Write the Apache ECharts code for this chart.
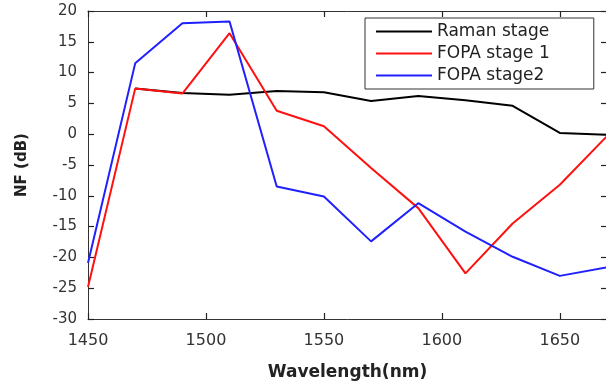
<!DOCTYPE html>
<html><head><meta charset="utf-8">
<script src="https://cdn.jsdelivr.net/npm/echarts@6/dist/echarts.min.js"></script>
<style>html,body{margin:0;padding:0;background:#fff}#c{width:606px;height:382px}</style>
</head><body><div id="c"></div>
<script>
const wavelengths = [1450,1470,1490,1510,1530,1550,1570,1590,1610,1630,1650,1670];
const raman = [null,7.4,6.7,6.4,7.0,6.8,5.4,6.2,5.5,4.6,0.2,-0.1];
const fopa1 = [-24.8,7.4,6.6,16.4,3.8,1.3,-5.5,-12.0,-22.6,-14.5,-8.2,-0.3];
const fopa2 = [-20.9,11.5,18.0,18.3,-8.5,-10.1,-17.4,-11.2,-15.8,-19.9,-23.0,-21.6];

const pairs = arr => wavelengths.map((w,i)=>[w,arr[i]]).filter(p=>p[1]!==null);
const chart = echarts.init(document.getElementById('c'));
const font = 'DejaVu Sans, sans-serif';
const mkAxis = () => ({
  axisLine:{show:true,onZero:false,lineStyle:{color:'#333',width:1}},
  axisTick:{show:true,inside:true,length:6,lineStyle:{color:'#222',width:1.2}},
  splitLine:{show:false}
});
chart.setOption({
  animation:false,
  grid:{left:88,top:11,width:519,height:308,show:false,containLabel:false,outerBoundsMode:'none'},
  legend:{
    orient:'vertical', left:365, top:18, itemWidth:56, itemHeight:2, itemGap:5,
    icon:'rect', padding:[5,44,5,11],
    borderColor:'#333', borderWidth:1, backgroundColor:'#fff',
    textStyle:{fontFamily:font,fontSize:17,color:'#222'},
    data:['Raman stage','FOPA stage 1','FOPA stage2']
  },
  xAxis:[
    Object.assign(mkAxis(),{type:'value',min:1450,max:1670,interval:50,position:'bottom',
      name:'Wavelength(nm)',nameLocation:'middle',nameGap:45,
      nameTextStyle:{fontFamily:font,fontSize:17,fontWeight:'bold',color:'#222'},
      axisLabel:{fontFamily:font,fontSize:16,color:'#333',margin:14,showMaxLabel:false,
        formatter:v=>String(v)}}),
    Object.assign(mkAxis(),{type:'value',min:1450,max:1670,interval:50,position:'top',axisLabel:{show:false}})
  ],
  yAxis:[
    Object.assign(mkAxis(),{type:'value',min:-30,max:20,interval:5,position:'left',
      name:'NF (dB)',nameLocation:'middle',nameGap:58,
      nameTextStyle:{fontFamily:font,fontSize:15,fontWeight:'bold',color:'#222'},
      axisLabel:{fontFamily:font,fontSize:15,color:'#333',margin:11,formatter:v=>String(v)}}),
    Object.assign(mkAxis(),{type:'value',min:-30,max:20,interval:5,position:'right',axisLabel:{show:false}})
  ],
  series:[
    {name:'Raman stage',type:'line',xAxisIndex:0,yAxisIndex:0,data:pairs(raman),symbol:'none',lineStyle:{color:'#000',width:2},itemStyle:{color:'#000'}},
    {name:'FOPA stage 1',type:'line',xAxisIndex:1,yAxisIndex:1,data:pairs(fopa1),symbol:'none',lineStyle:{color:'#ff1010',width:2},itemStyle:{color:'#ff1010'}},
    {name:'FOPA stage2',type:'line',xAxisIndex:0,yAxisIndex:1,data:pairs(fopa2),symbol:'none',lineStyle:{color:'#2020ff',width:2},itemStyle:{color:'#2020ff'}}
  ]
});
</script></body></html>
